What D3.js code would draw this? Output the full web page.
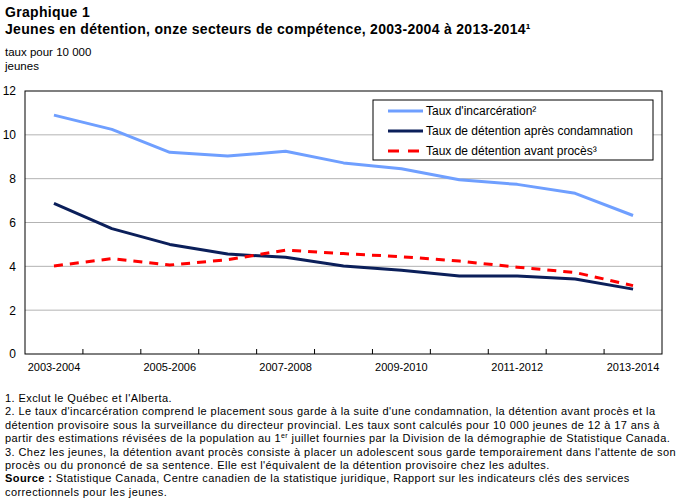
<!DOCTYPE html>
<html>
<head>
<meta charset="utf-8">
<script src="https://cdn.jsdelivr.net/npm/d3@7"></script>
<style>
    body { margin: 0; background: #fff; }
    svg { font-family: Arial, "Liberation Sans", sans-serif; }
</style>
</head>
<body>
<div class="chartBoard"></div>
<script>
// years on the x axis
const years = ["2003-2004", "2004-2005", "2005-2006", "2006-2007", "2007-2008", "2008-2009",
    "2009-2010", "2010-2011", "2011-2012", "2012-2013", "2013-2014"];
// rates per 10 000 youth
const incarceration = [10.9, 10.25, 9.2, 9.03, 9.25, 8.72, 8.45, 7.95, 7.74, 7.33, 6.32];
const sentenced = [6.87, 5.72, 5.0, 4.56, 4.41, 4.02, 3.82, 3.56, 3.56, 3.42, 2.96];
const remand = [4.02, 4.35, 4.06, 4.3, 4.74, 4.58, 4.44, 4.24, 3.96, 3.72, 3.12];
const yTicks = [0, 2, 4, 6, 8, 10, 12];
const seriesNames = ["Taux d'incarcération²", "Taux de détention après condamnation", "Taux de détention avant procès³"];

const footnotes = [
    "1. Exclut le Québec et l'Alberta.",
    "2. Le taux d'incarcération comprend le placement sous garde à la suite d'une condamnation, la détention avant procès et la",
    "détention provisoire sous la surveillance du directeur provincial. Les taux sont calculés pour 10 000 jeunes de 12 à 17 ans à",
    "partir des estimations révisées de la population au 1<tspan dy='-4' font-size='7'>er</tspan><tspan dy='4'> juillet fournies par la Division de la démographie de Statistique Canada.</tspan>",
    "3. Chez les jeunes, la détention avant procès consiste à placer un adolescent sous garde temporairement dans l'attente de son",
    "procès ou du prononcé de sa sentence. Elle est l'équivalent de la détention provisoire chez les adultes.",
    "<tspan font-weight='bold'>Source :</tspan> Statistique Canada, Centre canadien de la statistique juridique, Rapport sur les indicateurs clés des services",
    "correctionnels pour les jeunes."
];

const w = 676, h = 499;
const pLeft = 25, pRight = 662, pTop = 91, pBottom = 354;

const svg = d3.select(".chartBoard")
    .append("svg")
    .attr("width", w)
    .attr("height", h);

// TITLES
svg.append("text").attr("x", 5).attr("y", 17)
    .attr("font-size", 14).attr("font-weight", "bold").attr("letter-spacing", 0.3)
    .text("Graphique 1");
svg.append("text").attr("x", 5).attr("y", 34)
    .attr("font-size", 14).attr("font-weight", "bold").attr("letter-spacing", 0.3)
    .text("Jeunes en détention, onze secteurs de compétence, 2003-2004 à 2013-2014¹");
svg.append("text").attr("x", 5).attr("y", 56).attr("font-size", 11.5)
    .text("taux pour 10 000");
svg.append("text").attr("x", 5).attr("y", 70).attr("font-size", 11.5)
    .text("jeunes");

// SCALES
const xScale = d3.scaleBand().domain(years).range([pLeft, pRight]);
const yScale = d3.scaleLinear().domain([0, 12]).range([pBottom, pTop]);

// gridlines
svg.append("g").selectAll("line")
    .data(yTicks.filter(d => d > 0 && d < 12))
    .enter().append("line")
    .attr("x1", pLeft).attr("x2", pRight)
    .attr("y1", d => yScale(d)).attr("y2", d => yScale(d))
    .attr("stroke", "#b3b3b3").attr("stroke-width", 1);

// frame
svg.append("rect")
    .attr("x", pLeft).attr("y", pTop)
    .attr("width", pRight - pLeft).attr("height", pBottom - pTop)
    .attr("fill", "none").attr("stroke", "#000").attr("stroke-width", 1);

// y axis
const yAxis = d3.axisLeft(yScale).tickValues(yTicks).tickSize(0).tickPadding(9);
svg.append("g")
    .attr("transform", `translate(${pLeft},0)`)
    .call(yAxis)
    .call(g => g.select(".domain").remove())
    .selectAll("text").attr("font-size", 12).attr("font-family", "Arial, 'Liberation Sans', sans-serif");

// x axis: ticks at band boundaries, labels every second year
svg.append("g").selectAll("line")
    .data(years.slice(1))
    .enter().append("line")
    .attr("x1", d => xScale(d)).attr("x2", d => xScale(d))
    .attr("y1", pBottom).attr("y2", pBottom - 5)
    .attr("stroke", "#000");

svg.append("g").selectAll("text")
    .data(years.filter((d, i) => i % 2 === 0))
    .enter().append("text")
    .attr("x", d => xScale(d) + xScale.bandwidth() / 2)
    .attr("y", pBottom + 17)
    .attr("text-anchor", "middle")
    .attr("font-size", 11)
    .text(d => d);

// LINES
const series = [
    { values: incarceration, color: "#6f9fff", dash: null, width: 3 },
    { values: sentenced, color: "#0b1f5a", dash: null, width: 3 },
    { values: remand, color: "#ff0000", dash: "9,7", width: 3 }
];

const line = d3.line()
    .x((d, i) => xScale(years[i]) + xScale.bandwidth() / 2)
    .y(d => yScale(d));

series.forEach(s => {
    svg.append("path")
        .attr("d", line(s.values))
        .attr("fill", "none")
        .attr("stroke", s.color)
        .attr("stroke-width", s.width)
        .attr("stroke-dasharray", s.dash)
        .attr("stroke-linejoin", "round");
});

// LEGEND
const legend = svg.append("g").attr("transform", "translate(373,100)");
legend.append("rect")
    .attr("width", 280).attr("height", 60)
    .attr("fill", "#fff").attr("stroke", "#000");
series.forEach((s, i) => {
    const y = 11 + i * 20;
    legend.append("line")
        .attr("x1", 15).attr("x2", 50)
        .attr("y1", y).attr("y2", y)
        .attr("stroke", s.color).attr("stroke-width", 3)
        .attr("stroke-dasharray", s.dash ? "11,9" : null);
    legend.append("text")
        .attr("x", 53).attr("y", y + 4)
        .attr("font-size", 12)
        .text(seriesNames[i]);
});

// FOOTNOTES
svg.append("g").selectAll("text")
    .data(footnotes)
    .enter().append("text")
    .attr("x", 5)
    .attr("y", (d, i) => 402 + i * 13.4)
    .attr("font-size", 11)
    .attr("letter-spacing", 0.42)
    .html(d => d);
</script>
</body>
</html>
